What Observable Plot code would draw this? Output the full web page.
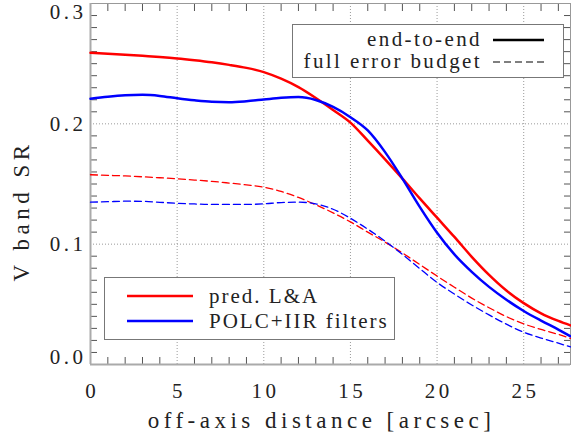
<!DOCTYPE html>
<html><head><meta charset="utf-8">
<script src="https://cdn.jsdelivr.net/npm/d3@7"></script>
<script src="https://cdn.jsdelivr.net/npm/@observablehq/plot@0.6"></script>
<style>
body{margin:0;background:#fff;}
#chart svg text { font-family: "Liberation Serif", serif !important; }
</style>
</head><body><div id="chart"></div>
<script>
// off-axis distance [arcsec]
const offAxis = [0,1,2,3,4,5,6,7,8,9,10,11,12,13,14,15,16,17,18,19,20,21,22,23,24,25,26,27,27.7];
// V band SR, end-to-end
const predLA_e2e = [0.259,0.2583,0.2575,0.2565,0.2555,0.2543,0.2528,0.2511,0.249,0.2465,0.243,0.2375,0.2305,0.2215,0.2115,0.201,0.186,0.1705,0.1545,0.138,0.122,0.106,0.0895,0.0745,0.0615,0.0510,0.0425,0.0362,0.0325];
const polc_e2e   = [0.2208,0.2225,0.2237,0.2241,0.2232,0.2212,0.2195,0.2183,0.218,0.2188,0.2202,0.2216,0.2222,0.2198,0.214,0.2055,0.1945,0.1765,0.1545,0.131,0.1095,0.0915,0.077,0.0645,0.0538,0.0445,0.0365,0.029,0.0235];
// V band SR, full error budget
const predLA_full = [0.1577,0.1572,0.1567,0.156,0.1552,0.1543,0.1533,0.1522,0.1508,0.1493,0.1474,0.1438,0.1388,0.1327,0.126,0.1185,0.110,0.1017,0.0927,0.0831,0.0735,0.0642,0.0552,0.0472,0.0398,0.0338,0.0291,0.0250,0.0217];
const polc_full   = [0.1349,0.1353,0.1357,0.1356,0.1348,0.134,0.1334,0.133,0.133,0.133,0.1335,0.1346,0.1349,0.1335,0.129,0.1215,0.1125,0.1025,0.0915,0.0797,0.0682,0.0585,0.0495,0.0412,0.0335,0.0268,0.0220,0.0177,0.0146];

const modelNames = ["pred. L&A", "POLC+IIR filters"];
const modelColors = ["#ff0000", "#0000ff"];
const budgetNames = ["end-to-end", "full error budget"];
const xMajor = [0,5,10,15,20,25];
const xMinor = d3.range(1, 28).filter(d => d % 5 !== 0);
const yMinor = d3.range(1, 30).filter(d => d % 10 !== 0).map(d => d / 100);

const rows = (vals, model, budget) => offAxis.map((x, i) => ({x, v: vals[i], model, budget}));
const data = [
  ...rows(predLA_e2e, modelNames[0], budgetNames[0]),
  ...rows(polc_e2e, modelNames[1], budgetNames[0]),
  ...rows(predLA_full, modelNames[0], budgetNames[1]),
  ...rows(polc_full, modelNames[1], budgetNames[1])
];
const sel = (m, b) => data.filter(d => d.model === m && d.budget === b);

const grid = {stroke: "#9a9a9a", strokeOpacity: 1, strokeDasharray: "1,2", strokeWidth: 1};
const tickStyle = {stroke: "#555", strokeWidth: 1, tickFormat: () => "", label: null};
const fmt = d3.format(".1f");

const plot = Plot.plot({
  width: 571, height: 437,
  marginLeft: 90, marginRight: 1, marginTop: 3, marginBottom: 73,
  x: {domain: [0, 27.7]},
  y: {domain: [0, 0.3]},
  style: "font-family:'Liberation Serif',serif; font-size:21px; letter-spacing:3.5px; background:#fff; color:#222; overflow:visible;",
  marks: [
    Plot.gridX(xMajor.filter(d => d > 0), grid),
    Plot.gridY([0.1, 0.2], grid),
    Plot.axisX(xMinor, {anchor: "bottom", tickSize: -7, ...tickStyle}),
    Plot.axisX(xMinor, {anchor: "top", tickSize: -7, ...tickStyle}),
    Plot.axisY(yMinor, {anchor: "left", tickSize: -7, ...tickStyle}),
    Plot.axisY(yMinor, {anchor: "right", tickSize: -7, ...tickStyle}),
    Plot.frame({stroke: "#999", strokeWidth: 1}),
    Plot.ruleX([0], {stroke: "#aaa", strokeWidth: 2}),
    Plot.ruleY([0], {stroke: "#aaa", strokeWidth: 2}),
    Plot.axisX(xMajor, {anchor: "bottom", tickSize: 0, tickPadding: 19, dx: 1.75, label: null, fill: "#222", fontSize: 21}),
    Plot.axisY([0.1, 0.2], {anchor: "left", tickSize: 0, tickPadding: 4, tickFormat: fmt, label: null, fill: "#222", fontSize: 21}),
    Plot.axisY([0.3], {anchor: "left", tickSize: 0, tickPadding: 4, dy: 9, tickFormat: fmt, label: null, fill: "#222", fontSize: 21}),
    Plot.axisY([0.0], {anchor: "left", tickSize: 0, tickPadding: 4, dy: -7, tickFormat: fmt, label: null, fill: "#222", fontSize: 21}),
    Plot.line(sel(modelNames[0], budgetNames[1]), {x: "x", y: "v", stroke: modelColors[0], strokeWidth: 1.3, strokeDasharray: "7,4", curve: "monotone-x"}),
    Plot.line(sel(modelNames[1], budgetNames[1]), {x: "x", y: "v", stroke: modelColors[1], strokeWidth: 1.3, strokeDasharray: "7,4", curve: "monotone-x"}),
    Plot.line(sel(modelNames[0], budgetNames[0]), {x: "x", y: "v", stroke: modelColors[0], strokeWidth: 2.5, curve: "monotone-x"}),
    Plot.line(sel(modelNames[1], budgetNames[0]), {x: "x", y: "v", stroke: modelColors[1], strokeWidth: 2.5, curve: "monotone-x"}),
    Plot.text(["off-axis distance [arcsec]"], {frameAnchor: "bottom", textAnchor: "middle", lineAnchor: "middle", dy: 56, dx: -9, fontSize: 23, fill: "#222"}),
    Plot.text(["V band SR"], {frameAnchor: "left", textAnchor: "middle", lineAnchor: "middle", rotate: -90, dx: -69, dy: 27, fontSize: 23, fill: "#222"})
  ]
});

document.getElementById("chart").appendChild(plot);

const svg = d3.select(plot);
svg.selectAll("text").filter(function(){ return this.textContent === "off-axis distance [arcsec]" || this.textContent === "V band SR"; })
   .style("letter-spacing", "4.5px");

// in-plot legends
const lg1 = svg.append("g").attr("font-size", 21).attr("text-anchor", "end").style("letter-spacing", "2.4px");
lg1.append("rect").attr("x", 292.5).attr("y", 24.5).attr("width", 271).attr("height", 53)
   .attr("fill", "#fff").attr("stroke", "#777");
budgetNames.forEach((name, i) => {
  const cy = 40 + i * 22;
  lg1.append("text").attr("x", 482).attr("y", cy + 6).attr("fill", "#222").text(name);
  lg1.append("line").attr("x1", 493).attr("x2", 544).attr("y1", cy).attr("y2", cy)
     .attr("stroke", "#000").attr("stroke-width", i === 0 ? 2.5 : 1.2)
     .attr("stroke-dasharray", i === 0 ? null : "7,4");
});

const lg2 = svg.append("g").attr("font-size", 21).attr("text-anchor", "start").style("letter-spacing", "2px");
lg2.append("rect").attr("x", 104.5).attr("y", 277.5).attr("width", 290).attr("height", 62)
   .attr("fill", "#fff").attr("stroke", "#777");
modelNames.forEach((name, i) => {
  const cy = 296 + i * 25;
  lg2.append("line").attr("x1", 127).attr("x2", 193).attr("y1", cy).attr("y2", cy)
     .attr("stroke", modelColors[i]).attr("stroke-width", 2.5);
  lg2.append("text").attr("x", 209).attr("y", cy + 7).attr("fill", "#222").text(name);
});
</script>
</body></html>
